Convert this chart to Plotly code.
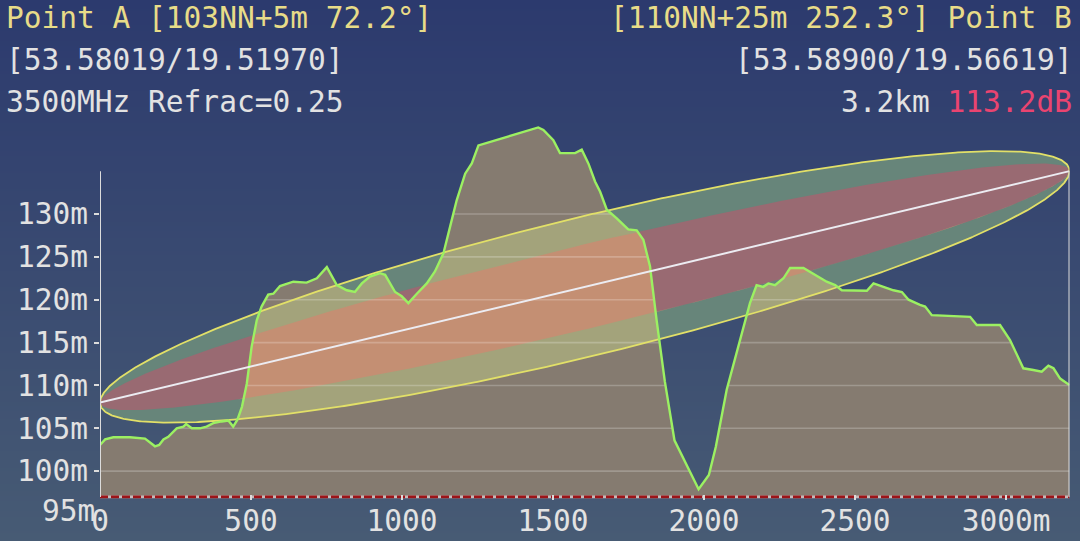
import numpy as np
import plotly.graph_objects as go

# terrain profile along the path (metres from A, metres above sea level)
dist_m = [0, 17, 44, 99, 149, 166, 182, 196, 210, 226, 243, 254, 276, 285, 304, 331, 353,
          375, 403, 425, 441, 455, 470, 486, 502, 519, 535, 557, 574, 596, 640, 684, 718,
          751, 784, 817, 844, 867, 894, 927, 944, 977, 999, 1021, 1049, 1082, 1109, 1137,
          1159, 1181, 1209, 1231, 1253, 1347, 1451, 1468, 1501, 1523, 1573, 1595, 1617,
          1639, 1656, 1678, 1711, 1749, 1777, 1799, 1821, 1843, 1870, 1902, 1948, 1982,
          2016, 2039, 2075, 2119, 2152, 2174, 2196, 2213, 2235, 2263, 2285, 2329, 2357,
          2406, 2434, 2456, 2539, 2561, 2594, 2627, 2655, 2677, 2715, 2732, 2754, 2881,
          2903, 2980, 3013, 3057, 3090, 3118, 3140, 3157, 3179, 3210]
height_m = [103.05, 103.7, 103.95, 103.95, 103.8, 103.3, 102.9, 103.05, 103.7, 104.0, 104.6,
            105.0, 105.2, 105.5, 105.0, 105.0, 105.2, 105.6, 105.8, 105.9, 105.2, 106.0,
            107.5, 110.2, 114.5, 117.6, 119.2, 120.6, 120.7, 121.6, 122.1, 122.0, 122.5,
            123.8, 121.7, 121.1, 120.9, 121.9, 122.7, 123.1, 122.9, 120.9, 120.4, 119.6,
            120.7, 121.9, 123.3, 125.4, 128.5, 131.6, 134.7, 135.9, 138.0, 139.0, 140.1,
            139.8, 138.6, 137.1, 137.1, 137.5, 135.9, 133.8, 132.6, 130.5, 129.5, 128.2,
            128.1, 127.0, 123.9, 117.6, 110.5, 103.6, 100.3, 97.9, 99.55, 102.85, 109.5,
            115.3, 119.6, 121.7, 121.5, 121.9, 121.7, 122.5, 123.7, 123.7, 123.1, 122.1,
            121.7, 121.1, 121.05, 121.9, 121.5, 121.1, 120.9, 120.0, 119.4, 119.2, 118.2,
            118.0, 117.05, 117.05, 115.3, 112.0, 111.8, 111.6, 112.3, 112.0, 110.8, 110.05]

ground_a, mast_a = 103, 5
ground_b, mast_b = 110, 25
freq_mhz = 3500
path_len = 3210
base_level = 97.0

y_ticks = [100, 105, 110, 115, 120, 125, 130]
x_ticks = [0, 500, 1000, 1500, 2000, 2500, 3000]
x_labels = ["0", "500", "1000", "1500", "2000", "2500", "3000m"]

MONO = "DejaVu Sans Mono"
FS = 29.5
TXT = "#e2e2e2"
YEL = "#e8dc88"
RED = "#ea4470"
AXIS = "#dcdcdc"

h_a = ground_a + mast_a
h_b = ground_b + mast_b
lam = 299.792458 / freq_mhz

terr_x = np.array(dist_m, dtype=float)
terr_y = np.array(height_m, dtype=float)


def los(x):
    return h_a + (h_b - h_a) * x / path_len


def fresnel(x, frac=1.0):
    return frac * np.sqrt(np.clip(lam * x * (path_len - x) / path_len, 0, None))


theta = np.linspace(0, np.pi, 500)
xe = path_len * (1 - np.cos(theta)) / 2
xd = np.union1d(np.union1d(xe, np.linspace(0, path_len, 1801)), terr_x)
td = np.interp(xd, terr_x, terr_y)

fig = go.Figure()

# background gradient
fig.add_trace(go.Heatmap(z=[[0, 0], [1, 1]], x=[0, 1], y=[0, 1], zsmooth="best",
                         colorscale=[[0, "#475b74"], [1, "#2c3a6e"]], showscale=False,
                         hoverinfo="skip", xaxis="x", yaxis="y"))

# terrain fill
fig.add_trace(go.Scatter(x=list(terr_x) + [path_len, 0], y=list(terr_y) + [base_level, base_level],
                         fill="toself", fillcolor="#857b70", mode="lines", line=dict(width=0),
                         hoverinfo="skip", xaxis="x2", yaxis="y2"))


def zone(frac, color):
    r = fresnel(xe, frac)
    xs = np.concatenate([xe, xe[::-1]])
    ys = np.concatenate([los(xe) + r, (los(xe) - r)[::-1]])
    fig.add_trace(go.Scatter(x=xs, y=ys, fill="toself", fillcolor=color, mode="lines",
                             line=dict(width=0, color=color),
                             hoverinfo="skip", xaxis="x2", yaxis="y2"))


def blocked(frac, color):
    r = fresnel(xd, frac)
    lo = los(xd) - r
    hi = los(xd) + r
    top = np.clip(td, lo, hi)
    fig.add_trace(go.Scatter(x=xd, y=lo, mode="lines", line=dict(width=0),
                             hoverinfo="skip", xaxis="x2", yaxis="y2"))
    fig.add_trace(go.Scatter(x=xd, y=top, mode="lines", line=dict(width=0), fill="tonexty",
                             fillcolor=color, hoverinfo="skip", xaxis="x2", yaxis="y2"))


zone(1.0, "#67857a")
zone(0.6, "#996a72")
blocked(1.0, "#a3a37b")
blocked(0.6, "#c48f73")

# grid lines, visible only inside the terrain
xg = np.union1d(np.linspace(0, path_len, 3211), terr_x)
tg = np.interp(xg, terr_x, terr_y)
for lv in y_ticks:
    yy = [lv if t > lv else None for t in tg]
    fig.add_trace(go.Scatter(x=xg, y=yy, mode="lines", connectgaps=False,
                             line=dict(color="rgba(255,255,255,0.22)", width=1.6),
                             hoverinfo="skip", xaxis="x2", yaxis="y2"))

# outer zone border
r1 = fresnel(xe)
fig.add_trace(go.Scatter(x=np.concatenate([xe, xe[::-1]]),
                         y=np.concatenate([los(xe) + r1, (los(xe) - r1)[::-1]]),
                         mode="lines", line=dict(color="#e2e068", width=1.8),
                         hoverinfo="skip", xaxis="x2", yaxis="y2"))

# terrain line
fig.add_trace(go.Scatter(x=terr_x, y=terr_y, mode="lines", line=dict(color="#9cf062", width=2.4),
                         hoverinfo="skip", xaxis="x2", yaxis="y2"))

# line of sight
fig.add_trace(go.Scatter(x=[0, path_len], y=[h_a, h_b], mode="lines",
                         line=dict(color="#ececf2", width=2), hoverinfo="skip",
                         xaxis="x2", yaxis="y2"))

# baseline and side lines
fig.add_trace(go.Scatter(x=[0, path_len], y=[base_level, base_level], mode="lines",
                         line=dict(color="#c8b8b8", width=2.6), hoverinfo="skip",
                         xaxis="x2", yaxis="y2"))
fig.add_trace(go.Scatter(x=[0, path_len], y=[base_level, base_level], mode="lines",
                         line=dict(color="#9c1418", width=2.8, dash="8px,3px"), hoverinfo="skip",
                         xaxis="x2", yaxis="y2"))
fig.add_trace(go.Scatter(x=[0, 0], y=[base_level, max(h_a, h_b)], mode="lines",
                         line=dict(color=AXIS, width=2), hoverinfo="skip", xaxis="x2", yaxis="y2"))
fig.add_trace(go.Scatter(x=[path_len, path_len], y=[base_level, h_b], mode="lines",
                         line=dict(color=AXIS, width=2), hoverinfo="skip", xaxis="x2", yaxis="y2"))

W, H = 1080, 541
px_per_m = 8.572
y_px_130 = 214
y_top = 130 + y_px_130 / px_per_m
y_bot = 130 - (500 - y_px_130) / px_per_m
y_dom0 = 1 - 500 / H

font = dict(family=MONO, size=FS, color=TXT)

ann = [
    dict(text="Point A [103NN+5m 72.2°]", x=4 / W, y=1 - 18 / H, xanchor="left", font=dict(family=MONO, size=FS, color=YEL)),
    dict(text="[53.58019/19.51970]", x=4 / W, y=1 - 60 / H, xanchor="left", font=font),
    dict(text="3500MHz Refrac=0.25", x=4 / W, y=1 - 102 / H, xanchor="left", font=font),
    dict(text="[110NN+25m 252.3°] Point B", x=1074 / W, y=1 - 18 / H, xanchor="right", font=dict(family=MONO, size=FS, color=YEL)),
    dict(text="[53.58900/19.56619]", x=1074 / W, y=1 - 60 / H, xanchor="right", font=font),
    dict(text=f'3.2km <span style="color:{RED}">113.2dB</span>', x=1074 / W, y=1 - 102 / H, xanchor="right", font=font),
]
# lowest tick label sits below the plotted range
y95 = y_dom0 + (95 - y_bot) / (y_top - y_bot) * (1 - y_dom0)
ann.append(dict(text="95m", x=97 / W, y=y95, xanchor="right", yshift=3, font=font))
for a in ann:
    a.update(xref="paper", yref="paper", yanchor="middle", showarrow=False)

fig.update_layout(
    width=W, height=H,
    margin=dict(l=0, r=0, t=0, b=0, autoexpand=False),
    paper_bgcolor="#2c3a6e",
    plot_bgcolor="rgba(0,0,0,0)",
    showlegend=False,
    annotations=ann,
    xaxis=dict(domain=[0, 1], range=[0, 1], visible=False, fixedrange=True, automargin=False),
    yaxis=dict(domain=[0, 1], range=[0, 1], visible=False, fixedrange=True, automargin=False),
    xaxis2=dict(domain=[100 / W, 1069.5 / W], range=[0, path_len], anchor="y2",
                tickvals=x_ticks, ticktext=x_labels, ticks="inside", ticklen=5, tickwidth=2,
                tickcolor=AXIS, showgrid=False, zeroline=False, showline=False,
                tickfont=font, automargin=False, fixedrange=True),
    yaxis2=dict(domain=[y_dom0, 1], range=[y_bot, y_top], anchor="x2",
                tickvals=y_ticks, ticktext=[f"{v}m" for v in y_ticks], ticks="outside",
                ticklen=5, tickwidth=2, tickcolor=AXIS, showgrid=False, zeroline=False,
                showline=False, tickfont=font, automargin=False, fixedrange=True),
)

fig.write_html("out.html", config={"displayModeBar": False},
               post_script="document.body.style.margin='0';")
